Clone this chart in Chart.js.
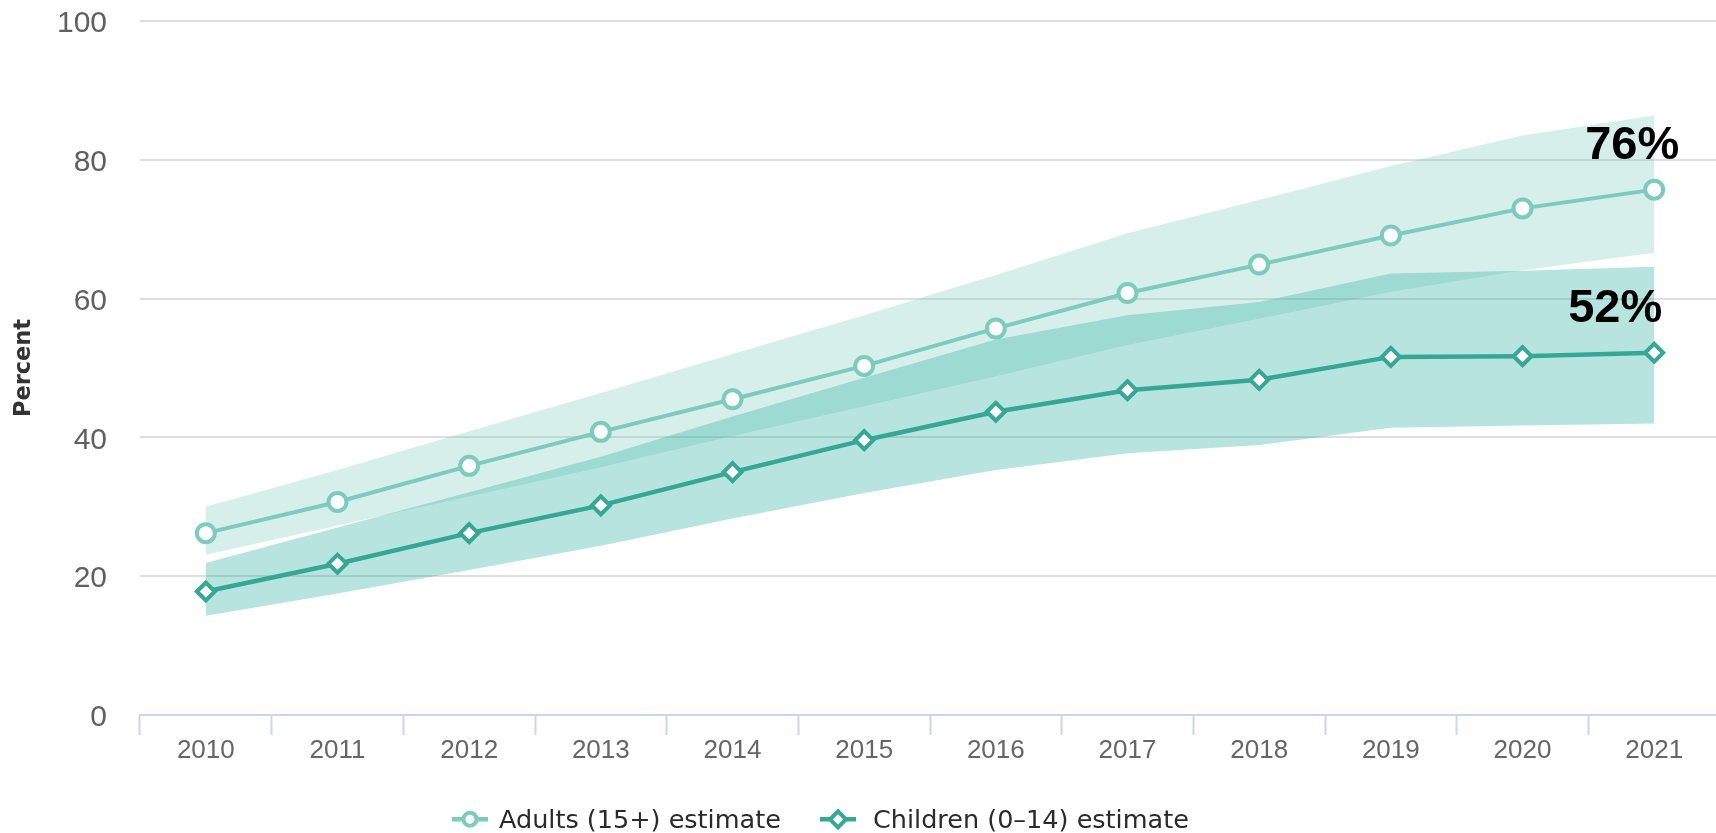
<!DOCTYPE html>
<html>
<head>
<meta charset="utf-8">
<title>Estimated treatment coverage, 2010–2021</title>
<script src="https://cdn.jsdelivr.net/npm/chart.js@4/dist/chart.umd.min.js"></script>
<style>
  html, body { margin: 0; padding: 0; background: #ffffff; overflow: hidden; }
  #wrap { position: relative; width: 1716px; height: 833px; overflow: hidden; }
  #chart { position: absolute; left: 0; top: 0; }
  #legend { position: absolute; left: 0; top: 790px; }
</style>
</head>
<body>
<div id="wrap">
  <canvas id="chart" width="1733" height="833"></canvas>
  <svg id="legend" width="1716" height="43" xmlns="http://www.w3.org/2000/svg"></svg>
</div>
<script>
// Years on the x axis
const years = ['2010', '2011', '2012', '2013', '2014', '2015', '2016', '2017', '2018', '2019', '2020', '2021'];

// Series names
const adultsName = 'Adults (15+) estimate';
const childrenName = 'Children (0–14) estimate';

// Adults (15+): point estimate with lower / upper bounds, percent
const adultsEstimate = [26.2, 30.7, 35.9, 40.8, 45.5, 50.3, 55.7, 60.8, 64.9, 69.1, 73.0, 75.7];
const adultsLower    = [23.1, 27.3, 31.5, 35.7, 40.2, 44.5, 48.8, 53.3, 57.1, 61.0, 64.1, 66.6];
const adultsUpper    = [30.0, 35.3, 40.9, 46.4, 52.0, 57.6, 63.4, 69.4, 74.2, 79.1, 83.5, 86.4];

// Children (0–14): point estimate with lower / upper bounds, percent
const childrenEstimate = [17.8, 21.8, 26.2, 30.2, 35.0, 39.6, 43.7, 46.8, 48.3, 51.6, 51.7, 52.2];
const childrenLower    = [14.3, 17.5, 20.9, 24.4, 28.3, 32.0, 35.3, 37.7, 38.9, 41.4, 41.7, 42.0];
const childrenUpper    = [21.9, 27.0, 32.1, 37.2, 43.0, 48.6, 54.1, 57.6, 59.5, 63.6, 64.0, 64.6];

// Y axis ticks
const yTicks = [0, 20, 40, 60, 80, 100];

// Colours
const adultsColor = '#7ccbbe';
const childrenColor = '#36a795';
const adultsBand = 'rgba(124, 203, 189, 0.31)';
const childrenBand = 'rgba(52, 178, 164, 0.35)';

// Bold value label above the last point of a series
const endLabels = {
  id: 'endLabels',
  afterDatasetsDraw(chart, args, opts) {
    const ctx = chart.ctx;
    ctx.save();
    ctx.font = 'bold 47px "Liberation Sans", Arial, sans-serif';
    ctx.fillStyle = '#000000';
    ctx.textAlign = 'center';
    ctx.textBaseline = 'alphabetic';
    opts.items.forEach(item => {
      const meta = chart.getDatasetMeta(item.dataset);
      const data = chart.data.datasets[item.dataset].data;
      const last = meta.data[meta.data.length - 1];
      const value = data[data.length - 1];
      ctx.fillText(Math.round(value) + '%', last.x + item.dx, last.y + item.dy);
    });
    ctx.restore();
  }
};

const bandLine = { borderColor: 'rgba(0,0,0,0)', borderWidth: 0, pointRadius: 0, pointHoverRadius: 0, tension: 0 };

const chart = new Chart(document.getElementById('chart'), {
  type: 'line',
  data: {
    labels: years,
    datasets: [
      {
        label: adultsName, data: adultsEstimate, fill: false,
        borderColor: adultsColor, borderWidth: 4, tension: 0,
        pointStyle: 'circle', pointRadius: 9, pointBorderWidth: 4,
        pointBorderColor: adultsColor, pointBackgroundColor: '#ffffff'
      },
      {
        label: childrenName, data: childrenEstimate, fill: false,
        borderColor: childrenColor, borderWidth: 4.5, tension: 0,
        pointStyle: 'rectRot', pointRadius: 9, pointBorderWidth: 4,
        pointBorderColor: childrenColor, pointBackgroundColor: '#ffffff'
      },
      Object.assign({ label: 'children-low', data: childrenLower, fill: false }, bandLine),
      Object.assign({ label: 'children-high', data: childrenUpper, fill: 2, backgroundColor: childrenBand }, bandLine),
      Object.assign({ label: 'adults-low', data: adultsLower, fill: false }, bandLine),
      Object.assign({ label: 'adults-high', data: adultsUpper, fill: 4, backgroundColor: adultsBand }, bandLine)
    ]
  },
  options: {
    responsive: false,
    animation: false,
    events: [],
    devicePixelRatio: 1,
    layout: { padding: { top: 21, right: 0, bottom: 0, left: 0 } },
    plugins: {
      legend: { display: false },
      tooltip: { enabled: false },
      filler: { drawTime: 'beforeDatasetsDraw' },
      endLabels: { items: [ { dataset: 0, dx: -22, dy: -30.5 }, { dataset: 1, dx: -39, dy: -31 } ] }
    },
    scales: {
      x: {
        type: 'category',
        offset: true,
        grid: {
          offset: true, drawOnChartArea: false, drawTicks: true,
          tickLength: 20, tickWidth: 2, tickColor: '#ccd6eb'
        },
        border: { display: true, color: '#ccd6eb', width: 2 },
        ticks: {
          padding: 0, maxRotation: 0, autoSkip: false,
          color: '#666666', font: { family: '"Liberation Sans", Arial, sans-serif', size: 26 }
        },
        afterFit(scale) { scale.height = 118; scale.paddingLeft = 0; scale.paddingRight = 0; }
      },
      y: {
        min: 0, max: 100,
        afterBuildTicks(scale) { scale.ticks = yTicks.map(v => ({ value: v })); },
        grid: {
          drawTicks: false, lineWidth: 2,
          color: ctx => (ctx.tick && ctx.tick.value === 0) ? 'rgba(0,0,0,0)' : '#dedede'
        },
        border: { display: false },
        ticks: {
          padding: 33, labelOffset: 3,
          color: '#606060', font: { family: '"Liberation Sans", Arial, sans-serif', size: 30 }
        },
        title: {
          display: true, text: 'Percent', color: '#333333',
          font: { family: '"DejaVu Sans", Verdana, sans-serif', size: 22.5, weight: 'bold', lineHeight: 1.2 },
          padding: { top: 11, bottom: 0 }
        },
        afterFit(scale) { scale.width = 140; scale.paddingTop = 0; scale.paddingBottom = 0; }
      }
    }
  },
  plugins: [endLabels]
});

// Legend: line + marker symbol followed by the series name
(function buildLegend() {
  const NS = 'http://www.w3.org/2000/svg';
  const svg = document.getElementById('legend');
  const items = [
    { name: adultsName, color: adultsColor, shape: 'circle', x: 452, tx: 499 },
    { name: childrenName, color: childrenColor, shape: 'diamond', x: 820, tx: 873 }
  ];
  const cy = 29.3;
  items.forEach(it => {
    const line = document.createElementNS(NS, 'line');
    line.setAttribute('x1', it.x); line.setAttribute('x2', it.x + 36);
    line.setAttribute('y1', cy); line.setAttribute('y2', cy);
    line.setAttribute('stroke', it.color); line.setAttribute('stroke-width', 4.5);
    svg.appendChild(line);
    const cx = it.x + 18;
    let mark;
    if (it.shape === 'circle') {
      mark = document.createElementNS(NS, 'circle');
      mark.setAttribute('cx', cx); mark.setAttribute('cy', cy); mark.setAttribute('r', 6.5);
    } else {
      mark = document.createElementNS(NS, 'polygon');
      const r = 8;
      mark.setAttribute('points', `${cx - r},${cy} ${cx},${cy - r} ${cx + r},${cy} ${cx},${cy + r}`);
    }
    mark.setAttribute('fill', '#ffffff'); mark.setAttribute('stroke', it.color); mark.setAttribute('stroke-width', 4);
    svg.appendChild(mark);
    const text = document.createElementNS(NS, 'text');
    text.setAttribute('x', it.tx); text.setAttribute('y', 37.7);
    text.setAttribute('font-family', '"DejaVu Sans", Verdana, sans-serif');
    text.setAttribute('font-size', '25.5');
    text.setAttribute('fill', '#2a2a2a');
    text.textContent = it.name;
    svg.appendChild(text);
  });
})();
</script>
</body>
</html>
